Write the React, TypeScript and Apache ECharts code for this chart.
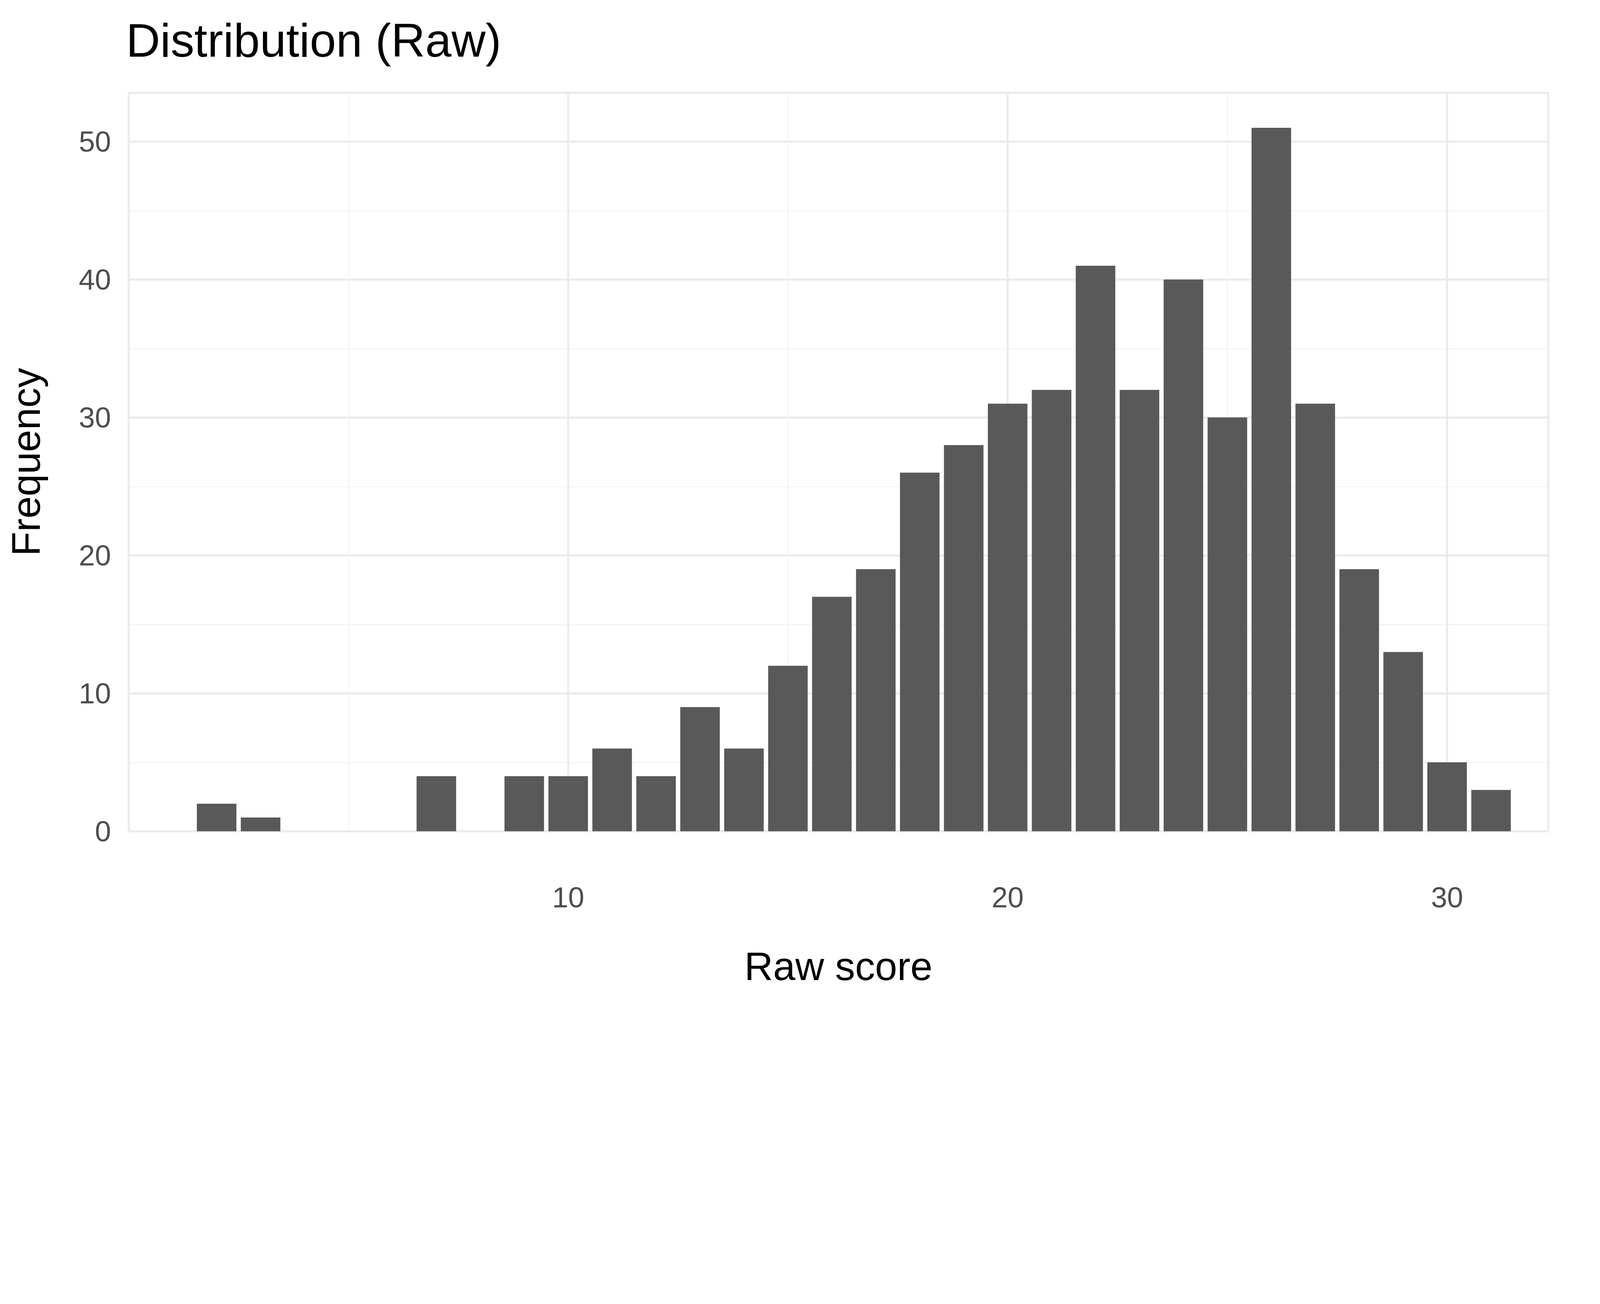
import * as echarts from "echarts";
import { useEffect, useRef } from "react";

const scores = [2, 3, 7, 9, 10, 11, 12, 13, 14, 15, 16, 17, 18, 19, 20, 21, 22, 23, 24, 25, 26, 27, 28, 29, 30, 31];
const counts = [2, 1, 4, 4, 4, 6, 4, 9, 6, 12, 17, 19, 26, 28, 31, 32, 41, 32, 40, 30, 51, 31, 19, 13, 5, 3];
const barWidth = 0.9;

const FONT = "Liberation Sans, Arial, sans-serif";

export default function App() {
  const chartRef = useRef<HTMLDivElement>(null);

  useEffect(() => {
    if (!chartRef.current) return;
    const chart = echarts.init(chartRef.current, undefined, { renderer: "svg" });
    // everything below was measured for a 5400px wide picture
    const k = chartRef.current.clientWidth / 5400;

    const option: echarts.EChartsOption = {
      animation: false,
      backgroundColor: "#ffffff",
      title: {
        text: "Distribution (Raw)",
        left: 410 * k,
        top: 40 * k,
        textStyle: { fontFamily: FONT, fontSize: 160 * k, fontWeight: "normal", color: "#000" },
      },
      grid: { left: 410 * k, right: 165 * k, top: 303 * k, bottom: 520 * k },
      xAxis: {
        type: "value",
        min: 0,
        max: 32.3,
        interval: 10,
        name: "Raw score",
        nameLocation: "middle",
        nameGap: 390 * k,
        nameTextStyle: { fontFamily: FONT, fontSize: 135 * k, color: "#000" },
        axisLine: { show: false },
        axisTick: { show: false },
        axisLabel: {
          margin: 175 * k,
          fontFamily: FONT,
          fontSize: 98 * k,
          color: "#4d4d4d",
          showMaxLabel: false,
          formatter: (v: number) => (v === 0 ? "" : String(v)),
        },
        splitLine: { show: true, lineStyle: { color: "#ebebeb", width: 7 * k } },
        minorTick: { show: false, splitNumber: 2 },
        minorSplitLine: { show: true, lineStyle: { color: "#f2f2f2", width: 3.5 * k } },
      },
      yAxis: {
        type: "value",
        min: 0,
        max: 53.55,
        interval: 10,
        name: "Frequency",
        nameLocation: "middle",
        nameGap: 280 * k,
        nameTextStyle: { fontFamily: FONT, fontSize: 135 * k, color: "#000" },
        axisLine: { show: false },
        axisTick: { show: false },
        axisLabel: { margin: 60 * k, fontFamily: FONT, fontSize: 98 * k, color: "#4d4d4d", showMaxLabel: false },
        splitLine: { show: true, lineStyle: { color: "#ebebeb", width: 7 * k } },
        minorTick: { show: false, splitNumber: 2 },
        minorSplitLine: { show: true, lineStyle: { color: "#f2f2f2", width: 3.5 * k } },
      },
      series: [
        {
          type: "custom",
          data: scores.map((s, i) => [s, counts[i]]),
          renderItem: (_params: any, api: any) => {
            const x = api.value(0);
            const y = api.value(1);
            const p0 = api.coord([x - barWidth / 2, 0]);
            const p1 = api.coord([x + barWidth / 2, y]);
            return {
              type: "rect",
              shape: { x: p0[0], y: p1[1], width: p1[0] - p0[0], height: p0[1] - p1[1] },
              style: { fill: "#595959" },
            };
          },
        },
      ],
    };

    chart.setOption(option);
    return () => chart.dispose();
  }, []);

  return (
    <div
      ref={chartRef}
      style={{ width: "calc(100vw - 16px)", height: "calc((100vw - 16px) * 3337 / 5400)" }}
    />
  );
}
